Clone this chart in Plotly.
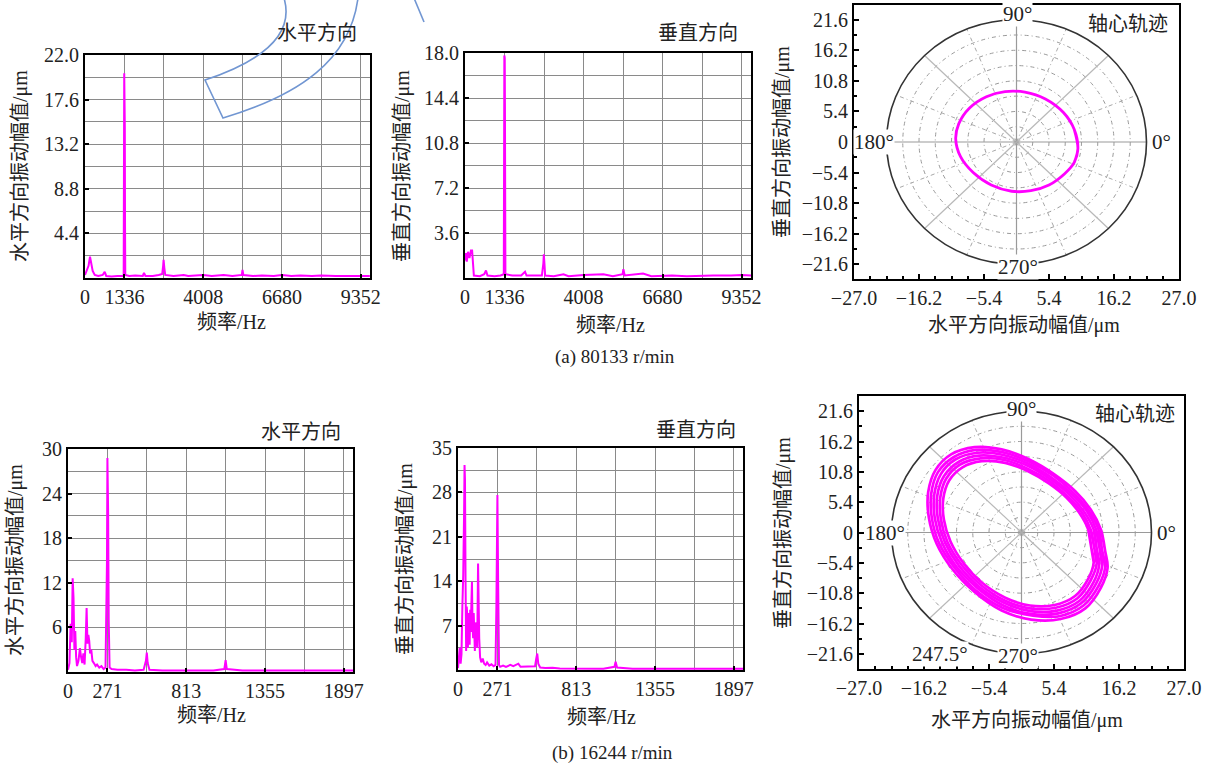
import math
import plotly.graph_objects as go

W, H = 1206, 765

# ---------------- data ----------------
# (a) 80133 r/min, horizontal spectrum
a_h_freq = [0, 60, 120, 170, 210, 260, 330, 450, 600, 668, 720, 900, 1100, 1300, 1312, 1322, 1330, 1344, 1350, 1358,
            1366, 1500, 1700, 1960, 2000, 2050, 2300, 2500, 2620, 2650, 2665, 2690, 2720, 3000, 3350, 3500, 3700,
            4008, 4300, 4700, 5000, 5320, 5340, 5370, 5700, 6000, 6400, 6680, 7000, 7300, 7700, 8000, 8500, 9000,
            9352, 9660]
a_h_amp = [0.3, 0.8, 1.2, 2.1, 1.6, 0.7, 0.3, 0.2, 0.3, 0.6, 0.2, 0.15, 0.2, 0.2, 0.3, 10.0, 20.2, 20.0, 15.0, 5.0,
           0.3, 0.2, 0.25, 0.2, 0.5, 0.2, 0.2, 0.3, 0.4, 1.2, 1.8, 1.0, 0.3, 0.2, 0.3, 0.2, 0.25,
           0.3, 0.2, 0.3, 0.2, 0.3, 0.8, 0.3, 0.2, 0.25, 0.2, 0.3, 0.2, 0.25, 0.2, 0.25, 0.2, 0.2,
           0.25, 0.2]

# (a) 80133 r/min, vertical spectrum
a_v_freq = [0, 30, 60, 100, 150, 200, 240, 270, 300, 500, 650, 710, 760, 1000, 1200, 1312, 1322, 1330, 1344, 1350,
            1358, 1366, 1600, 1900, 2030, 2080, 2400, 2600, 2650, 2665, 2690, 2710, 3000, 3330, 3500, 4008, 4680,
            5000, 5330, 5355, 5400, 6020, 6300, 7000, 7500, 8000, 8400, 9000, 9350, 9670]
a_v_amp = [1.4, 2.0, 1.3, 2.1, 1.6, 2.2, 2.2, 0.5, 0.2, 0.15, 0.3, 0.6, 0.2, 0.15, 0.2, 0.3, 12.0, 17.8, 17.6, 14.0,
           4.5, 0.3, 0.2, 0.2, 0.5, 0.2, 0.2, 0.2, 1.2, 1.9, 1.0, 0.2, 0.15, 0.3, 0.15, 0.25, 0.3,
           0.15, 0.3, 0.7, 0.2, 0.35, 0.15, 0.2, 0.15, 0.2, 0.2, 0.2, 0.25, 0.2]

# (b) 16244 r/min, horizontal spectrum
b_h_freq = [0, 10, 18, 26, 32, 38, 44, 50, 56, 62, 72, 82, 90, 98, 106, 114, 122, 128, 134, 140, 146, 152, 160,
            168, 178, 190, 200, 215, 230, 245, 258, 264, 268, 271, 276, 280, 286, 300, 340, 400, 460, 520, 536,
            542, 548, 560, 650, 800, 1000, 1075, 1084, 1092, 1200, 1400, 1600, 1800, 1960]
b_h_amp = [0.3, 1.2, 6.5, 4.0, 12.6, 10.0, 3.0, 5.5, 2.0, 0.8, 1.5, 3.2, 2.0, 1.2, 2.5, 1.0, 4.5, 8.6, 3.8, 5.0,
           4.2, 2.5, 3.0, 1.5, 1.2, 0.8, 1.0, 0.6, 0.8, 0.4, 0.6, 7.5, 14.8, 28.8, 21.5, 7.0, 0.6, 0.4, 0.3, 0.3,
           0.2, 0.3, 1.5, 2.6, 1.2, 0.3, 0.2, 0.2, 0.2, 0.4, 1.6, 0.4, 0.2, 0.2, 0.2, 0.2, 0.2]

# (b) 16244 r/min, vertical spectrum
b_v_freq = [0, 6, 12, 18, 24, 30, 36, 42, 45, 48, 52, 56, 60, 64, 68, 72, 76, 80, 84, 88, 92, 96, 100, 104, 108,
            112, 116, 120, 126, 132, 138, 142, 146, 152, 160, 170, 180, 190, 200, 215, 230, 245, 258, 264, 268,
            271, 276, 282, 290, 310, 330, 360, 380, 400, 415, 430, 460, 500, 530, 538, 545, 552, 565, 600, 650,
            700, 800, 900, 1000, 1076, 1084, 1094, 1200, 1400, 1600, 1800, 1960]
b_v_amp = [0.3, 1.5, 3.5, 1.0, 2.5, 10.0, 15.0, 25.0, 32.3, 30.0, 14.0, 3.0, 10.0, 8.5, 3.5, 9.0, 6.5, 4.0, 9.5,
           6.0, 10.5, 13.9, 7.0, 5.0, 9.0, 5.5, 3.0, 7.5, 6.0, 3.5, 16.8, 8.0, 5.0, 2.0, 1.2, 1.8, 1.0, 0.8, 1.2,
           0.7, 0.9, 0.6, 0.8, 10.0, 21.0, 27.6, 14.0, 0.8, 0.5, 0.7, 0.5, 0.8, 0.6, 0.9, 1.0, 0.5, 0.5, 0.5,
           0.6, 1.8, 2.6, 1.0, 0.4, 0.3, 0.35, 0.25, 0.2, 0.2, 0.2, 0.5, 1.3, 0.4, 0.2, 0.2, 0.2, 0.25, 0.2]

# (a) shaft-centre orbit (um)
a_orbit_x = [10.2, 9.6, 7.8, 4.8, 1.4, -1.9, -5.0, -7.8, -9.6, -10.1, -9.3, -7.2, -4.2, -0.8, 2.4, 5.4, 8.0, 9.6, 10.2]
a_orbit_y = [-1.2, 2.2, 5.2, 7.6, 8.8, 8.9, 8.0, 6.0, 3.2, 0.5, -2.6, -5.4, -7.6, -8.7, -8.6, -7.6, -5.6, -3.6, -1.2]

# (b) shaft-centre orbit, several revolutions (um)
b_loops_x = [
    [11.6, 11.1, 9.6, 7.5, 4.6, 1.1, -2.7, -6.6, -9.8, -12.0, -13.0, -12.9, -11.8, -9.6, -6.6, -2.7, 1.4, 5.5, 8.9, 11.1, 12.0, 11.6],
    [12.1, 11.5, 10.0, 7.7, 4.7, 1.1, -2.8, -6.8, -10.2, -12.5, -13.5, -13.4, -12.3, -10.0, -6.8, -2.8, 1.4, 5.7, 9.3, 11.5, 12.5, 12.1],
    [12.5, 12.0, 10.4, 8.0, 4.9, 1.2, -2.9, -7.1, -10.4, -12.9, -14.0, -13.9, -12.7, -10.4, -7.1, -2.9, 1.5, 5.9, 9.6, 12.0, 12.9, 12.5],
    [13.0, 12.4, 10.8, 8.3, 5.1, 1.2, -3.0, -7.3, -11.0, -13.4, -14.5, -14.4, -13.2, -10.8, -7.3, -3.0, 1.5, 6.1, 9.9, 12.4, 13.4, 13.0],
    [13.4, 12.8, 11.1, 8.6, 5.3, 1.3, -3.2, -7.6, -11.3, -13.9, -15.0, -14.9, -13.7, -11.1, -7.6, -3.2, 1.9, 6.3, 10.3, 12.8, 13.9, 13.4],
    [13.9, 13.2, 11.5, 8.9, 5.4, 1.3, -3.3, -7.8, -11.7, -14.3, -15.5, -15.4, -14.1, -11.5, -7.8, -3.3, 1.6, 6.5, 10.6, 13.2, 14.3, 13.9],
]
b_loops_y = [
    [-2.7, 0.5, 3.5, 6.2, 8.7, 10.9, 12.4, 12.7, 11.6, 9.3, 6.0, 2.3, -1.6, -5.5, -8.9, -11.6, -13.0, -12.9, -11.3, -8.2, -5.3, -2.7],
    [-2.8, 0.5, 3.6, 6.4, 9.1, 11.3, 12.9, 13.2, 12.1, 9.6, 6.2, 2.4, -1.7, -5.7, -9.3, -12.1, -13.5, -13.4, -11.7, -8.5, -5.5, -2.8],
    [-2.9, 0.5, 3.7, 6.7, 9.4, 11.8, 13.3, 13.7, 12.6, 10.0, 6.5, 2.5, -1.8, -5.9, -9.6, -12.5, -14.0, -13.9, -12.2, -8.8, -5.7, -2.9],
    [-3.0, 0.5, 3.9, 6.9, 9.7, 12.2, 13.8, 14.2, 13.0, 10.4, 6.7, 2.5, -1.8, -6.1, -9.9, -13.0, -14.5, -14.4, -12.6, -9.1, -5.9, -3.0],
    [-3.2, 0.5, 4.0, 7.1, 10.1, 12.6, 14.3, 14.7, 13.4, 10.7, 6.9, 2.6, -1.9, -6.3, -10.3, -13.4, -14.8, -14.9, -13.0, -9.5, -6.1, -3.2],
    [-3.3, 0.5, 4.1, 7.4, 10.4, 13.0, 14.8, 15.2, 13.9, 11.1, 7.2, 2.7, -2.0, -6.5, -10.6, -13.9, -15.5, -15.4, -13.5, -9.8, -6.3, -3.3],
]

# tick labels
a_h_xticks = [0, 1336, 4008, 6680, 9352]
a_h_xminor = [2672, 5344, 8016]
a_h_yticks = [4.4, 8.8, 13.2, 17.6, 22.0]
a_h_yticktext = ["4.4", "8.8", "13.2", "17.6", "22.0"]
a_h_yminor = [2.2, 6.6, 11.0, 15.4, 19.8]
a_v_yticks = [3.6, 7.2, 10.8, 14.4, 18.0]
a_v_yticktext = ["3.6", "7.2", "10.8", "14.4", "18.0"]
a_v_yminor = [1.8, 5.4, 9.0, 12.6, 16.2]
b_xticks = [0, 271, 813, 1355, 1897]
b_xminor = [542, 1084, 1626]
b_h_yticks = [6, 12, 18, 24, 30]
b_h_yminor = [3, 9, 15, 21, 27]
b_v_yticks = [7, 14, 21, 28, 35]
b_v_yminor = [3.5, 10.5, 17.5, 24.5, 31.5]
orb_xticks = [-27, -16.2, -5.4, 5.4, 16.2, 27]
orb_xticktext = ["\u221227.0", "\u221216.2", "\u22125.4", "5.4", "16.2", "27.0"]
orb_yticks = [-21.6, -16.2, -10.8, -5.4, 0, 5.4, 10.8, 16.2, 21.6]
orb_yticktext = ["\u221221.6", "\u221216.2", "\u221210.8", "\u22125.4", "0", "5.4", "10.8", "16.2", "21.6"]

# ---------------- figure ----------------
FONT = "'Liberation Serif', 'Times New Roman', 'Noto Sans CJK SC', serif"
MAG = "#ff00ff"
GRID = "#8a8a8a"


def px(x):
    return x / W


def py(y):
    return 1 - y / H


fig = go.Figure()
layout = dict(width=W, height=H, margin=dict(l=0, r=0, t=0, b=0, pad=0, autoexpand=False),
              paper_bgcolor="white", plot_bgcolor="white", showlegend=False,
              font=dict(family=FONT, size=20, color="#222"))

boxes = {
    1: (85, 370, 55, 278),
    2: (465, 751, 53, 278),
    3: (854, 1179, 5, 279),
    4: (68, 353, 449, 672),
    5: (458, 743, 448, 670),
    6: (859, 1184, 396, 669),
}


def axkey(kind, n):
    return kind + ("axis" if n == 1 else "axis%d" % n)


def spec_axes(n, xr, xt, xminor, yr, yt, ytext, yminor):
    x0, x1, y0, y1 = boxes[n]
    common = dict(ticks="inside", ticklen=4, tickwidth=1.5, tickcolor="black", showline=True, linecolor="black",
                  linewidth=2, mirror=True, showgrid=True, gridcolor=GRID, gridwidth=1, zeroline=False,
                  automargin=False, tickfont=dict(family=FONT, size=20, color="#222"))
    layout[axkey("x", n)] = dict(domain=[px(x0), px(x1)], range=xr, anchor="y%d" % n, tickmode="array",
                                 tickvals=xt, ticktext=[str(v) for v in xt],
                                 minor=dict(tickmode="array", tickvals=xminor, showgrid=True, gridcolor=GRID,
                                            ticks=""), **common)
    layout[axkey("y", n)] = dict(domain=[py(y1), py(y0)], range=yr, anchor="x%d" % n, tickmode="array",
                                 tickvals=yt, ticktext=ytext,
                                 minor=dict(tickmode="array", tickvals=yminor, showgrid=True, gridcolor=GRID,
                                            ticks=""), **common)


def orbit_axes(n, yr):
    x0, x1, y0, y1 = boxes[n]
    common = dict(ticks="inside", ticklen=5, tickwidth=1.5, tickcolor="black", showline=True, linecolor="black",
                  linewidth=2, mirror=True, showgrid=False, zeroline=False, automargin=False,
                  tickfont=dict(family=FONT, size=20, color="#222"))
    layout[axkey("x", n)] = dict(domain=[px(x0), px(x1)], range=[-27, 27], anchor="y%d" % n, tickmode="array",
                                 tickvals=orb_xticks, ticktext=orb_xticktext,
                                 minor=dict(dtick=2.7, tick0=-27, ticks="inside", ticklen=3, tickcolor="black"),
                                 **common)
    layout[axkey("y", n)] = dict(domain=[py(y1), py(y0)], range=yr, anchor="x%d" % n, tickmode="array",
                                 tickvals=orb_yticks, ticktext=orb_yticktext,
                                 minor=dict(dtick=2.7, tick0=0, ticks="inside", ticklen=3, tickcolor="black"),
                                 **common)


spec_axes(1, [0, 9665], a_h_xticks, a_h_xminor, [0, 22], a_h_yticks, a_h_yticktext, a_h_yminor)
spec_axes(2, [0, 9670], a_h_xticks, a_h_xminor, [0, 18], a_v_yticks, a_v_yticktext, a_v_yminor)
orbit_axes(3, [-24.2, 24.2])
spec_axes(4, [0, 1960], b_xticks, b_xminor, [0, 30], b_h_yticks, [str(v) for v in b_h_yticks], b_h_yminor)
spec_axes(5, [0, 1960], b_xticks, b_xminor, [0, 35], b_v_yticks, [str(v) for v in b_v_yticks], b_v_yminor)
orbit_axes(6, [-24.3, 24.3])


def line_trace(x, y, n, width=2.0, shape="linear"):
    fig.add_trace(go.Scatter(x=x, y=y, mode="lines", line=dict(color=MAG, width=width, shape=shape),
                             connectgaps=False,
                             xaxis="x%d" % n if n > 1 else "x", yaxis="y%d" % n if n > 1 else "y",
                             hoverinfo="skip"))


def wrapped(seq):
    # closed loop (last point == first): overlap one point at each end so the spline joins smoothly
    return [seq[-2]] + list(seq) + [seq[1]]


line_trace(a_h_freq, a_h_amp, 1)
line_trace(a_v_freq, a_v_amp, 2)
line_trace(wrapped(a_orbit_x), wrapped(a_orbit_y), 3, width=2.8, shape="spline")
line_trace(b_h_freq, b_h_amp, 4)
line_trace(b_v_freq, b_v_amp, 5)
for lx, ly in zip(b_loops_x, b_loops_y):
    line_trace(wrapped(lx), wrapped(ly), 6, width=2.7, shape="spline")

# ---------------- polar grid drawn on the orbit panels ----------------
shapes = []
R = 21.6
for n in (3, 6):
    xr, yr = "x%d" % n, "y%d" % n
    for k in range(1, 8):
        r = 2.7 * k
        shapes.append(dict(type="circle", xref=xr, yref=yr, x0=-r, x1=r, y0=-r, y1=r, layer="below",
                           line=dict(color="#9a9a9a", width=1, dash="4px,3px,1px,3px")))
    for k in range(16):
        th = math.radians(22.5 * k)
        if k % 4 == 0:
            st = dict(color="#9a9a9a", width=1.2)
        elif k % 2 == 0:
            st = dict(color="#b8b8b8", width=1.2)
        else:
            st = dict(color="#a8a8a8", width=1, dash="4px,3px,1px,3px")
        shapes.append(dict(type="line", xref=xr, yref=yr, x0=0, y0=0, x1=R * math.cos(th), y1=R * math.sin(th),
                           layer="below", line=st))
    shapes.append(dict(type="circle", xref=xr, yref=yr, x0=-R, x1=R, y0=-R, y1=R, layer="below",
                       line=dict(color="#333", width=1.6)))


# blue hand-drawn outline at the top of the figure
def pth(pts):
    out = []
    for cmd, coords in pts:
        s = " ".join("%.5f,%.5f" % (px(a), py(b)) for a, b in coords)
        out.append(cmd + s)
    return " ".join(out)


shapes.append(dict(type="path", xref="paper", yref="paper", layer="above",
                   path=pth([("M", [(284, -2)]), ("C", [(292, 25), (280, 55), (205, 80)]), ("L", [(223, 118)]),
                             ("C", [(300, 95), (350, 60), (358, -2)])]),
                   line=dict(color="#7196d2", width=1.6)))
shapes.append(dict(type="path", xref="paper", yref="paper", layer="above",
                   path=pth([("M", [(414, -2)]), ("L", [(424, 22), (475, -2)])]),
                   line=dict(color="#7196d2", width=1.6)))
layout["shapes"] = shapes

# ---------------- text ----------------
anns = []


def ann(text, x, y, size=20, angle=0, xanchor="center", yanchor="middle"):
    anns.append(dict(text=text, x=px(x), y=py(y), xref="paper", yref="paper", showarrow=False, textangle=angle,
                     xanchor=xanchor, yanchor=yanchor, font=dict(family=FONT, size=size, color="#222")))


# panel titles
ann("水平方向", 317, 33)
ann("垂直方向", 698, 33)
ann("轴心轨迹", 1128, 24)
ann("水平方向", 301, 432)
ann("垂直方向", 696, 430)
ann("轴心轨迹", 1135, 414)
# axis titles
ann("频率/Hz", 231, 322)
ann("频率/Hz", 610, 325)
ann("水平方向振动幅值/μm", 1024, 325)
ann("频率/Hz", 211, 715)
ann("频率/Hz", 601, 717)
ann("水平方向振动幅值/μm", 1027, 720)
ann("水平方向振动幅值/μm", 20, 166, angle=-90)
ann("垂直方向振动幅值/μm", 402, 166, angle=-90)
ann("垂直方向振动幅值/μm", 782, 142, angle=-90)
ann("水平方向振动幅值/μm", 15, 560, angle=-90)
ann("垂直方向振动幅值/μm", 405, 559, angle=-90)
ann("垂直方向振动幅值/μm", 783, 533, angle=-90)
# captions
ann("(a) 80133 r/min", 615, 357, size=19)
ann("(b) 16244 r/min", 612, 753, size=19)


# polar angle labels (data coordinates)
def angle_label(text, n, x, y):
    anns.append(dict(text=text, x=x, y=y, xref="x%d" % n, yref="y%d" % n, showarrow=False, bgcolor="white",
                     borderpad=0, font=dict(family=FONT, size=21, color="#222")))


angle_label("90°", 3, 0.2, 22.6)
angle_label("270°", 3, 0.2, -22.0)
angle_label("180°", 3, -23.6, 0.0)
angle_label("0°", 3, 24.1, 0.0)
angle_label("90°", 6, 0.0, 21.9)
angle_label("270°", 6, -0.5, -22.0)
angle_label("180°", 6, -22.6, 0.0)
angle_label("0°", 6, 24.1, 0.0)
angle_label("247.5°", 6, -13.5, -21.6)
layout["annotations"] = anns

fig.update_layout(**layout)
fig.write_html("out.html")
